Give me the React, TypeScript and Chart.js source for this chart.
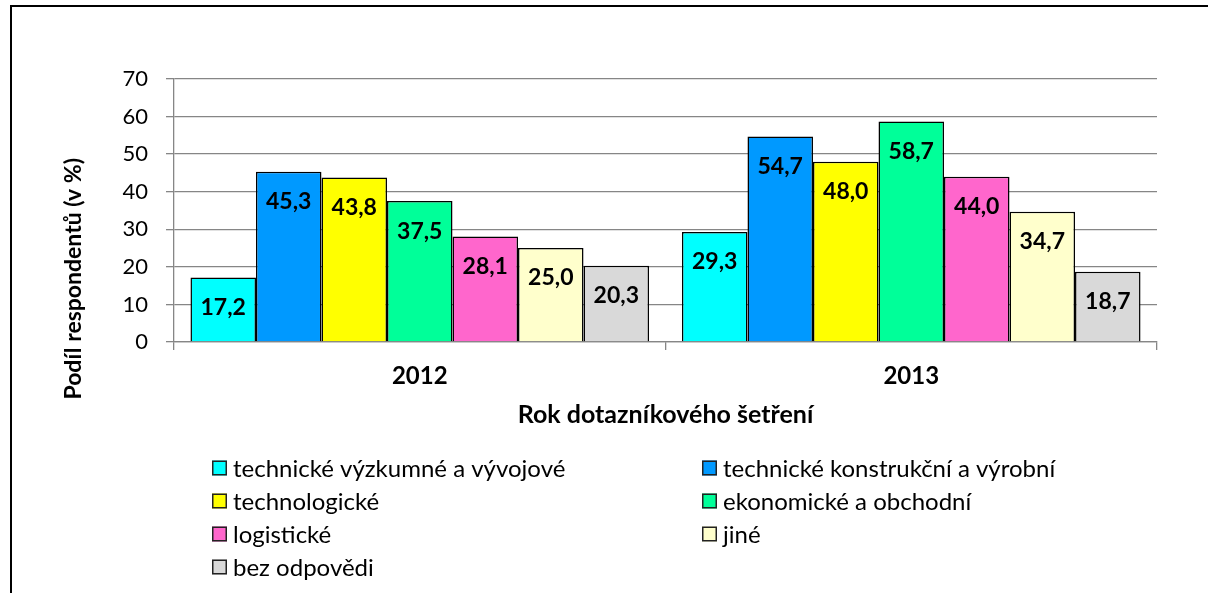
import React, { useEffect, useRef } from "react";
import { Chart, registerables } from "chart.js";

Chart.register(...registerables);

const categories: string[] = ["2012", "2013"];
const seriesNames: string[] = [
  "technické výzkumné a vývojové",
  "technické konstrukční a výrobní",
  "technologické",
  "ekonomické a obchodní",
  "logistické",
  "jiné",
  "bez odpovědi",
];
const vyzkumne: number[] = [17.2, 29.3];
const konstrukcni: number[] = [45.3, 54.7];
const technologicke: number[] = [43.8, 48.0];
const ekonomicke: number[] = [37.5, 58.7];
const logisticke: number[] = [28.1, 44.0];
const jine: number[] = [25.0, 34.7];
const bezOdpovedi: number[] = [20.3, 18.7];
const seriesColors: string[] = ["#00FFFF", "#0099FF", "#FFFF00", "#00FF99", "#FF66CC", "#FFFFCC", "#D9D9D9"];
const yTicksMin = 0;
const yTicksMax = 70;
const yTicksStep = 10;
const yTitle = "Podíl respondentů (v %)";
const xTitle = "Rok dotazníkového šetření";

const FONT = "Lato, 'Open Sans', sans-serif";

const dataLabelPlugin = {
  id: "dataLabels",
  afterDatasetsDraw(chart: any) {
    const ctx = chart.ctx;
    ctx.save();
    ctx.font = `bold 23px ${FONT}`;
    ctx.fillStyle = "#000";
    ctx.textAlign = "center";
    ctx.textBaseline = "middle";
    chart.data.datasets.forEach((ds: any, i: number) => {
      const meta = chart.getDatasetMeta(i);
      meta.data.forEach((el: any, j: number) => {
        const v = ds.data[j] as number;
        const txt = v.toFixed(1).replace(".", ",");
        ctx.fillText(txt, el.x, el.y + 30);
      });
    });
    ctx.restore();
  },
};

const yTitlePlugin = {
  id: "yTitle",
  afterDraw(chart: any) {
    const ctx = chart.ctx;
    ctx.save();
    ctx.translate(74, 158);
    ctx.rotate(-Math.PI / 2);
    ctx.font = `bold 23px ${FONT}`;
    ctx.fillStyle = "#000";
    ctx.textAlign = "right";
    ctx.textBaseline = "middle";
    ctx.fillText(yTitle, 0, 0);
    ctx.restore();
  },
};

const legendPlugin = {
  id: "customLegend",
  afterDraw(chart: any) {
    const ctx = chart.ctx;
    ctx.save();
    const colX = [212, 702];
    const rowY = [468, 501, 534, 567];
    ctx.font = `24px ${FONT}`;
    ctx.textBaseline = "middle";
    ctx.textAlign = "left";
    chart.data.datasets.forEach((ds: any, i: number) => {
      const x = colX[i % 2];
      const y = rowY[Math.floor(i / 2)];
      ctx.fillStyle = ds.backgroundColor;
      ctx.fillRect(x, y - 7.5, 15, 15);
      ctx.strokeStyle = "#222";
      ctx.lineWidth = 1.5;
      ctx.strokeRect(x + 0.75, y - 6.75, 13.5, 13.5);
      ctx.fillStyle = "#000";
      ctx.fillText(ds.label, x + 21, y + 1);
    });
    ctx.restore();
  },
};

const borderPlugin = {
  id: "outerBorder",
  afterDraw(chart: any) {
    const ctx = chart.ctx;
    ctx.save();
    ctx.strokeStyle = "#000";
    ctx.lineWidth = 2;
    ctx.strokeRect(11, 6, 1400, 800);
    ctx.restore();
  },
};

export default function App() {
  const canvasRef = useRef<HTMLCanvasElement | null>(null);

  useEffect(() => {
    if (!canvasRef.current) return;
    const allSeries = [vyzkumne, konstrukcni, technologicke, ekonomicke, logisticke, jine, bezOdpovedi];
    const chart = new Chart(canvasRef.current, {
      type: "bar",
      data: {
        labels: categories,
        datasets: allSeries.map((d, i) => ({
          label: seriesNames[i],
          data: d,
          backgroundColor: seriesColors[i],
          borderColor: "#000",
          borderWidth: 1.5,
          categoryPercentage: 0.933,
          barPercentage: 1.0,
        })),
      },
      options: {
        responsive: false,
        animation: false,
        layout: { padding: { left: 60, top: 79, right: 51, bottom: 151 } },
        plugins: {
          legend: { display: false },
          tooltip: { enabled: false },
        },
        scales: {
          x: {
            afterFit: (scale: any) => {
              scale.height = 100;
            },
            grid: {
              display: true,
              drawOnChartArea: false,
              drawTicks: true,
              tickLength: 8,
              offset: true,
              color: "#868686",
              lineWidth: 1.3,
            },
            border: { display: true, color: "#868686", width: 1.3 },
            ticks: {
              color: "#000",
              font: { family: FONT, size: 24, weight: "bold", lineHeight: 1.2 },
              padding: 12,
            },
            title: {
              display: true,
              text: xTitle,
              color: "#000",
              font: { family: FONT, size: 25, weight: "bold", lineHeight: 1.2 },
              padding: { top: 0, bottom: 12 },
            },
          },
          y: {
            min: yTicksMin,
            max: yTicksMax,
            afterFit: (scale: any) => {
              scale.width = 114;
            },
            grid: {
              color: "#868686",
              lineWidth: 1.3,
              tickLength: 8,
              drawTicks: true,
            },
            border: { display: true, color: "#868686", width: 1.3 },
            ticks: {
              stepSize: yTicksStep,
              color: "#000",
              font: { family: FONT, size: 22, lineHeight: 1.2 },
              padding: 18,
            },
            title: { display: false },
          },
        },
      },
      plugins: [dataLabelPlugin, yTitlePlugin, legendPlugin, borderPlugin],
    });
    if ((document as any).fonts) {
      Promise.all([
        (document as any).fonts.load(`20px Lato`),
        (document as any).fonts.load(`bold 20px Lato`),
      ])
        .then(() => chart.update())
        .catch(() => {});
    }
    return () => chart.destroy();
  }, []);

  return (
    <div style={{ position: "absolute", left: 0, top: 0, width: 1208, height: 593, background: "#fff" }}>
      <canvas ref={canvasRef} width={1208} height={593} style={{ display: "block" }} />
    </div>
  );
}
